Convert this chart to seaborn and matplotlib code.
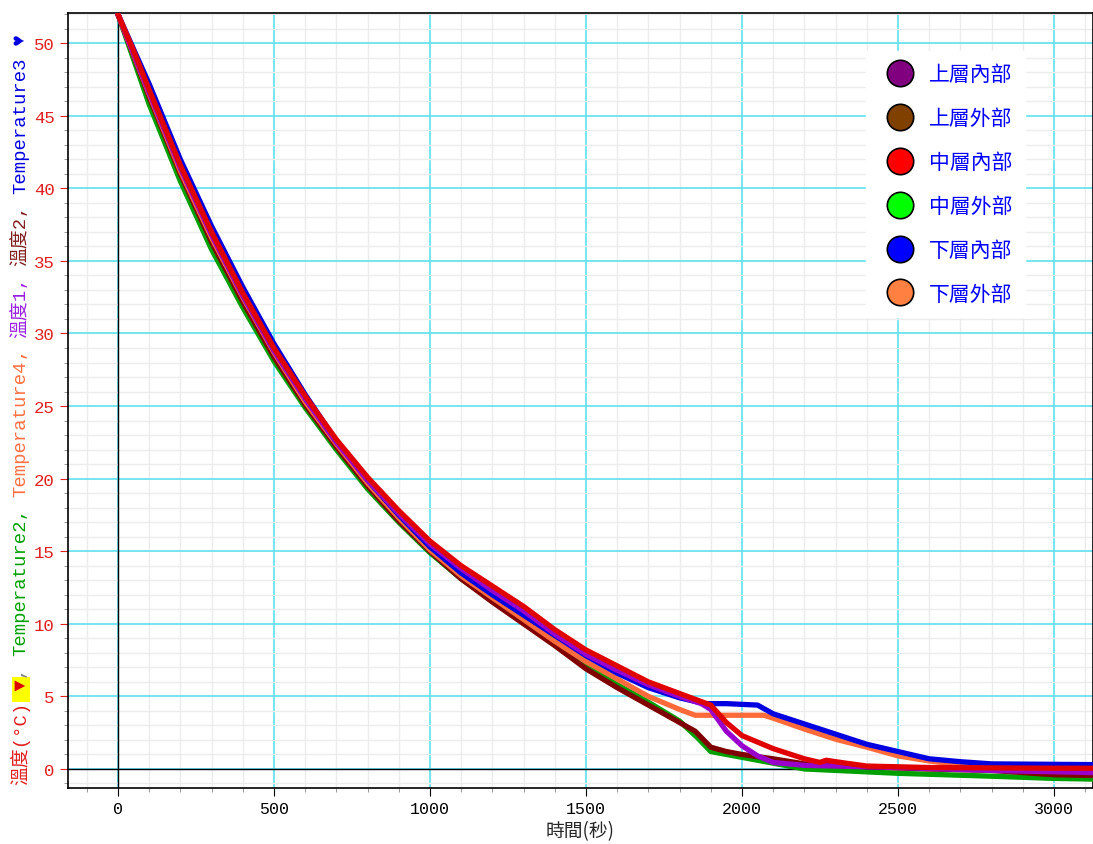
import matplotlib
matplotlib.use("Agg")
import matplotlib.pyplot as plt
from matplotlib.lines import Line2D
from matplotlib.ticker import MultipleLocator
import pandas as pd
import seaborn as sns

# time (s) / temperature (C)
t_purple = [0, 100, 200, 300, 400, 500, 600, 700, 800, 900, 1000, 1100, 1200, 1300, 1400, 1500,
            1600, 1700, 1800, 1870, 1900, 1950, 2000, 2050, 2100, 2200, 2500, 2800, 3125]
T_purple = [52, 46.6, 41.4, 36.8, 32.6, 28.8, 25.5, 22.5, 19.9, 17.6, 15.5, 13.8, 12.3, 10.9, 9.3, 7.9,
            6.8, 5.8, 5.0, 4.5, 4.1, 2.6, 1.6, 0.9, 0.45, 0.25, 0.1, -0.1, -0.25]

t_darkred = [0, 100, 200, 300, 400, 500, 600, 700, 800, 900, 1000, 1100, 1200, 1300, 1400, 1500,
             1600, 1700, 1800, 1850, 1900, 1950, 2000, 2100, 2200, 2400, 2600, 2800, 3000, 3125]
T_darkred = [52, 46.3, 41.0, 36.3, 32.2, 28.4, 25.1, 22.2, 19.5, 17.1, 15.0, 13.1, 11.5, 10.0, 8.5, 6.9,
             5.6, 4.4, 3.2, 2.6, 1.5, 1.2, 1.0, 0.7, 0.35, 0.15, 0.0, -0.1, -0.4, -0.45]

t_red = [0, 50, 100, 200, 300, 400, 500, 600, 700, 800, 900, 1000, 1100, 1200, 1300, 1400, 1500,
         1600, 1700, 1800, 1900, 1950, 2000, 2100, 2200, 2250, 2270, 2300, 2400, 2600, 3000, 3125]
T_red = [52, 49.5, 46.8, 41.6, 37.0, 32.8, 29.0, 25.7, 22.7, 20.1, 17.8, 15.7, 14.0, 12.6, 11.2, 9.6, 8.2,
         7.1, 6.0, 5.2, 4.4, 3.2, 2.3, 1.4, 0.7, 0.45, 0.6, 0.5, 0.2, 0.1, 0.05, 0.05]

t_green = [0, 100, 200, 300, 400, 500, 600, 700, 800, 900, 1000, 1100, 1200, 1300, 1400, 1500,
           1600, 1700, 1800, 1860, 1900, 1950, 2000, 2100, 2200, 2500, 2800, 3000, 3125]
T_green = [52, 45.8, 40.5, 35.8, 31.8, 28.1, 24.9, 22.0, 19.3, 17.0, 14.9, 13.1, 11.6, 10.1, 8.7, 7.1,
           5.8, 4.6, 3.3, 2.1, 1.2, 1.0, 0.8, 0.4, 0.0, -0.3, -0.5, -0.65, -0.7]

t_blue = [0, 100, 200, 300, 400, 500, 600, 700, 800, 900, 1000, 1100, 1200, 1300, 1400, 1500,
          1600, 1700, 1800, 1880, 1950, 2050, 2100, 2200, 2300, 2400, 2500, 2600, 2700, 2800, 3125]
T_blue = [52, 47.2, 42.0, 37.4, 33.2, 29.3, 25.8, 22.6, 19.9, 17.5, 15.3, 13.5, 12.0, 10.6, 9.2, 7.8,
          6.6, 5.6, 4.9, 4.5, 4.5, 4.4, 3.8, 3.1, 2.4, 1.7, 1.2, 0.7, 0.5, 0.35, 0.3]

t_orange = [0, 100, 200, 300, 400, 500, 600, 700, 800, 900, 1000, 1100, 1200, 1300, 1400, 1500,
            1600, 1700, 1800, 1850, 2070, 2100, 2200, 2300, 2400, 2500, 2600, 2700, 2800, 3000, 3125]
T_orange = [52, 46.5, 41.2, 36.6, 32.5, 28.7, 25.3, 22.4, 19.7, 17.3, 15.1, 13.3, 11.8, 10.3, 8.8, 7.4,
            6.2, 5.0, 4.1, 3.7, 3.7, 3.5, 2.75, 2.05, 1.5, 0.9, 0.55, 0.3, 0.15, 0.0, 0.0]

series = ["溫度1", "溫度2", "溫度", "Temperature2", "Temperature3", "Temperature4"]
legend_labels = ["上層內部", "上層外部", "中層內部", "中層外部", "下層內部", "下層外部"]
line_colors = {"溫度1": "#9a00cc", "溫度2": "#800000", "溫度": "#e00000",
               "Temperature2": "#00a000", "Temperature3": "#0000e0", "Temperature4": "#ff6a3a"}
legend_colors = ["#800080", "#804000", "#ff0000", "#00ff00", "#0000ff", "#ff8040"]

frames = []
for name, t, T in [("溫度1", t_purple, T_purple), ("溫度2", t_darkred, T_darkred),
                   ("溫度", t_red, T_red), ("Temperature2", t_green, T_green),
                   ("Temperature3", t_blue, T_blue), ("Temperature4", t_orange, T_orange)]:
    frames.append(pd.DataFrame({"t": t, "T": T, "series": name}))
df = pd.concat(frames, ignore_index=True)

sns.set_style("white")
plt.rcParams["font.family"] = ["Liberation Mono", "Noto Sans CJK TC", "DejaVu Sans"]

fig = plt.figure(figsize=(10.93, 8.45), dpi=100)
ax = fig.add_axes([0.0622, 0.0663, 0.9378, 0.917])

draw_order = ["Temperature2", "溫度2", "Temperature4", "Temperature3", "溫度1", "溫度"]
sns.lineplot(data=df, x="t", y="T", hue="series", hue_order=draw_order,
             palette=line_colors, linewidth=3.8, legend=False, ax=ax, zorder=3,
             estimator=None, sort=False)

ax.set_xlim(-160, 3125)
ax.set_ylim(-1.31, 52.07)
ax.xaxis.set_major_locator(MultipleLocator(500))
ax.xaxis.set_minor_locator(MultipleLocator(100))
ax.yaxis.set_major_locator(MultipleLocator(5))
ax.yaxis.set_minor_locator(MultipleLocator(1))
ax.grid(which="minor", color="#ececec", linewidth=1.0, zorder=0)
ax.grid(which="major", color="#5ee0ee", linewidth=1.2, zorder=1)
ax.set_axisbelow(True)
ax.axhline(0, color="black", linewidth=1.0, zorder=2)
ax.axvline(0, color="black", linewidth=1.0, zorder=2)

for s in ax.spines.values():
    s.set_color("black")
    s.set_linewidth(1.2)

ax.tick_params(axis="y", which="major", direction="out", length=6, color="#e02020",
               labelcolor="#e02020", labelsize=12.5, left=True)
ax.tick_params(axis="y", which="minor", direction="out", length=3, color="#888888", left=True)
ax.tick_params(axis="x", which="major", direction="out", length=6, color="black",
               labelcolor="black", labelsize=12, bottom=True)
ax.tick_params(axis="x", which="minor", direction="out", length=3, color="#888888", bottom=True)

ax.set_xlabel("時間(秒)", fontsize=13.5, labelpad=3, family=["Noto Sans CJK TC", "DejaVu Sans"])
ax.set_ylabel("")

handles = [Line2D([], [], linestyle="none", marker="o", markersize=19,
                  markerfacecolor=c, markeredgecolor="black", markeredgewidth=1.2)
           for c in legend_colors]
leg = fig.legend(handles, legend_labels, loc="upper left", bbox_to_anchor=(0.783, 0.951),
                 frameon=True, facecolor="white", edgecolor="white", framealpha=1,
                 labelcolor="blue", labelspacing=1.05, handletextpad=0.4, borderpad=0.6,
                 prop={"family": ["Noto Sans CJK TC"], "size": 15})
leg.get_frame().set_boxstyle("square", pad=0)

# multi-coloured y label, stacked bottom to top
pieces = [("溫度(°C)", "#e02020", None), (" ▼", "#dd0000", "yellow"), (", ", "#808080", None),
          ("Temperature2", "#00a000", None), (", ", "#00a000", None),
          ("Temperature4", "#ff7040", None), (", ", "#ff7040", None),
          ("溫度1", "#9a20e0", None), (", ", "#9a20e0", None),
          ("溫度2", "#802020", None), (", ", "#802020", None),
          ("Temperature3", "#0000e0", None), (" ♥", "#0000e0", None)]
fig.canvas.draw()
renderer = fig.canvas.get_renderer()
y = 1 - 785 / 845
for txt, col, bg in pieces:
    kw = {}
    if bg:
        kw["bbox"] = dict(facecolor=bg, edgecolor="none", pad=0.5)
    tt = fig.text(0.019, y, txt, rotation=90, ha="center", va="bottom", color=col,
                  fontsize=13.6, **kw)
    ext = tt.get_window_extent(renderer)
    y = ext.y1 / fig.bbox.height

fig.savefig("out.png", dpi=100)
